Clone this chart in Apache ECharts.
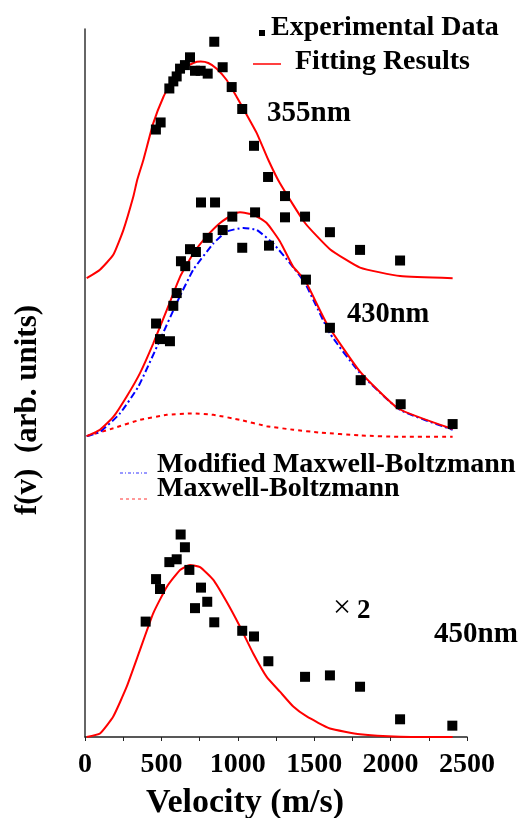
<!DOCTYPE html>
<html>
<head>
<meta charset="utf-8">
<script src="https://cdn.jsdelivr.net/npm/echarts@6/dist/echarts.min.js"></script>
<style>html,body{margin:0;padding:0;background:#fff;}#c{width:524px;height:818px;}</style>
</head>
<body>
<div id="c"></div>
<script>
// x: velocity (m/s); y: f(v) in arbitrary units (curves stacked with offsets)
const xTicks = [0, 500, 1000, 1500, 2000, 2500];

// 355 nm
const exp355 = [[464,85.8],[495,86.8],[552,91.6],[578,92.6],[600,93.3],[622,94.4],[654,94.9],[687,96.0],[720,94.1],[757,94.1],[803,93.7],[846,98.2],[901,94.6],[960,91.8],[1029,88.7],[1106,83.5],[1198,79.1],[1309,76.4],[1309,73.4],[1440,73.5],[1603,71.3],[1800,68.8],[2062,67.3]];
const fit355 = [[11,64.8],[98,66.0],[185,68.1],[251,71.6],[316,76.3],[342,78.7],[382,81.5],[447,86.7],[513,90.4],[578,93.0],[643,94.4],[709,95.2],[757,95.4],[807,95.2],[862,94.4],[927,92.8],[993,90.4],[1058,87.9],[1124,85.3],[1200,81.5],[1276,78.2],[1440,72.6],[1603,68.9],[1800,66.3],[2062,65.1],[2406,64.8]];

// 430 nm
const exp430 = [[465,58.4],[491,56.2],[556,55.9],[578,60.9],[600,62.7],[628,67.2],[656,66.5],[687,68.9],[726,68.5],[759,75.5],[803,70.5],[851,75.5],[901,71.6],[964,73.5],[1029,69.1],[1113,74.1],[1204,69.4],[1446,64.6],[1603,57.8],[1804,50.4],[2066,47.0],[2406,44.2]];
const fit430 = [[11,42.5],[98,43.4],[185,45.2],[273,48.1],[360,51.4],[447,55.6],[535,60.3],[622,65.0],[709,68.3],[796,70.7],[884,72.6],[971,73.8],[1014,74.1],[1101,73.8],[1189,72.6],[1276,70.0],[1363,66.4],[1440,64.5],[1582,58.4],[1800,51.6],[2050,46.4],[2406,43.5]];
const modMB430 = [[11,42.5],[98,43.1],[229,45.7],[349,49.5],[491,56.1],[600,61.3],[709,66.0],[840,69.7],[927,71.4],[1036,71.9],[1124,71.6],[1232,69.7],[1342,66.9],[1440,64.1],[1603,57.0],[1800,51.4],[2062,46.2],[2406,43.4]];
const mb430 = [[11,42.5],[185,43.6],[360,44.8],[535,45.5],[698,45.7],[840,45.5],[1014,44.8],[1189,43.9],[1363,43.4],[1538,43.0],[1800,42.6],[2062,42.4],[2406,42.4]];

// 450 nm (x2)
const exp450 = [[397,16.3],[465,22.3],[491,20.9],[552,24.7],[600,25.1],[626,28.6],[654,26.8],[683,23.6],[720,18.2],[759,21.1],[800,19.1],[846,16.2],[1029,15.0],[1106,14.2],[1200,10.7],[1440,8.5],[1603,8.7],[1800,7.1],[2062,2.5],[2404,1.6]];
const fit450 = [[11,0],[98,0.5],[185,2.9],[273,7.1],[360,12.3],[447,17.5],[535,21.2],[622,23.6],[687,24.3],[753,24.0],[840,22.2],[927,19.1],[1014,15.6],[1101,11.8],[1189,8.5],[1276,6.4],[1363,4.3],[1451,2.9],[1603,1.2],[1800,0.4],[2062,0.05],[2406,0]];

const F = '"Liberation Serif", "Times New Roman", serif';
const chart = echarts.init(document.getElementById('c'), null, {renderer:'canvas'});

function fitLine(data, color, type, width){
  return {type:'line', data:data, showSymbol:false, smooth:0.15, z:3,
    lineStyle:{color:color, width:width, type:type}, silent:true};
}
function expPts(data){
  return {type:'scatter', data:data, symbol:'rect', symbolSize:10, z:4,
    itemStyle:{color:'#000', opacity:1}, silent:true};
}
function txt(x, y, s, size, opt){
  return Object.assign({type:'text', x:x, y:y, z:10, style:{text:s, font:'bold '+size+'px '+F, fill:'#000', textVerticalAlign:'middle', textAlign:'left'}}, opt||{});
}

chart.setOption({
  animation:false,
  backgroundColor:'#fff',
  grid:{left:85, right:57, top:29, bottom:81, containLabel:false, outerBoundsMode:'none'},
  xAxis:{type:'value', min:0, max:2500, interval:250,
    axisLine:{show:true, lineStyle:{color:'#222', width:1.5}},
    axisTick:{show:true, inside:false, length:4, lineStyle:{color:'#222'}},
    axisLabel:{show:true, margin:14, color:'#000', fontFamily:F, fontWeight:'bold', fontSize:28,
      formatter:function(v){return (v % 500 === 0) ? String(v) : '';}},
    splitLine:{show:false}
  },
  yAxis:{type:'value', min:0, max:100,
    axisLine:{show:true, lineStyle:{color:'#333', width:1.5}},
    axisTick:{show:false}, axisLabel:{show:false}, splitLine:{show:false}
  },
  series:[
    fitLine(fit355, '#ff0000', 'solid', 2),
    expPts(exp355),
    fitLine(mb430, '#ff0000', [4,4], 2),
    fitLine(modMB430, '#0000ff', [7,3,2,3], 2),
    fitLine(fit430, '#ff0000', 'solid', 2),
    expPts(exp430),
    fitLine(fit450, '#ff0000', 'solid', 2),
    expPts(exp450)
  ],
  graphic:[
    {type:'text', x:245, y:803, z:10, style:{text:'Velocity (m/s)', font:'bold 34px '+F, fill:'#000', textAlign:'center', textVerticalAlign:'middle'}},
    {type:'text', x:28, y:410, rotation:Math.PI/2, z:10, style:{text:'f(v)  (arb. units)', font:'bold 31px '+F, fill:'#000', textAlign:'center', textVerticalAlign:'middle'}},
    {type:'rect', shape:{x:259, y:30, width:6, height:6}, style:{fill:'#000'}, z:10},
    txt(271, 28, 'Experimental Data', 28),
    {type:'line', shape:{x1:253, y1:64, x2:281, y2:64}, style:{stroke:'#ff0000', lineWidth:1.5}, z:10},
    txt(295, 62, 'Fitting Results', 28),
    txt(267, 114, '355nm', 29),
    txt(347, 315, '430nm', 28.5),
    txt(434, 635, '450nm', 29),
    {type:'text', x:333, y:609, z:10, style:{text:'×', font:'normal 32px '+F, fill:'#000', textVerticalAlign:'middle'}},
    txt(357, 611, '2', 27),
    {type:'line', shape:{x1:120, y1:473, x2:147, y2:473}, style:{stroke:'#3333ff', lineWidth:1, lineDash:[3,2,1,2]}, z:10},
    txt(157, 465, 'Modified Maxwell-Boltzmann', 28),
    {type:'line', shape:{x1:120, y1:499, x2:147, y2:499}, style:{stroke:'#ff3333', lineWidth:1, lineDash:[3,3]}, z:10},
    txt(157, 489, 'Maxwell-Boltzmann', 28)
  ]
});
</script>
</body>
</html>
